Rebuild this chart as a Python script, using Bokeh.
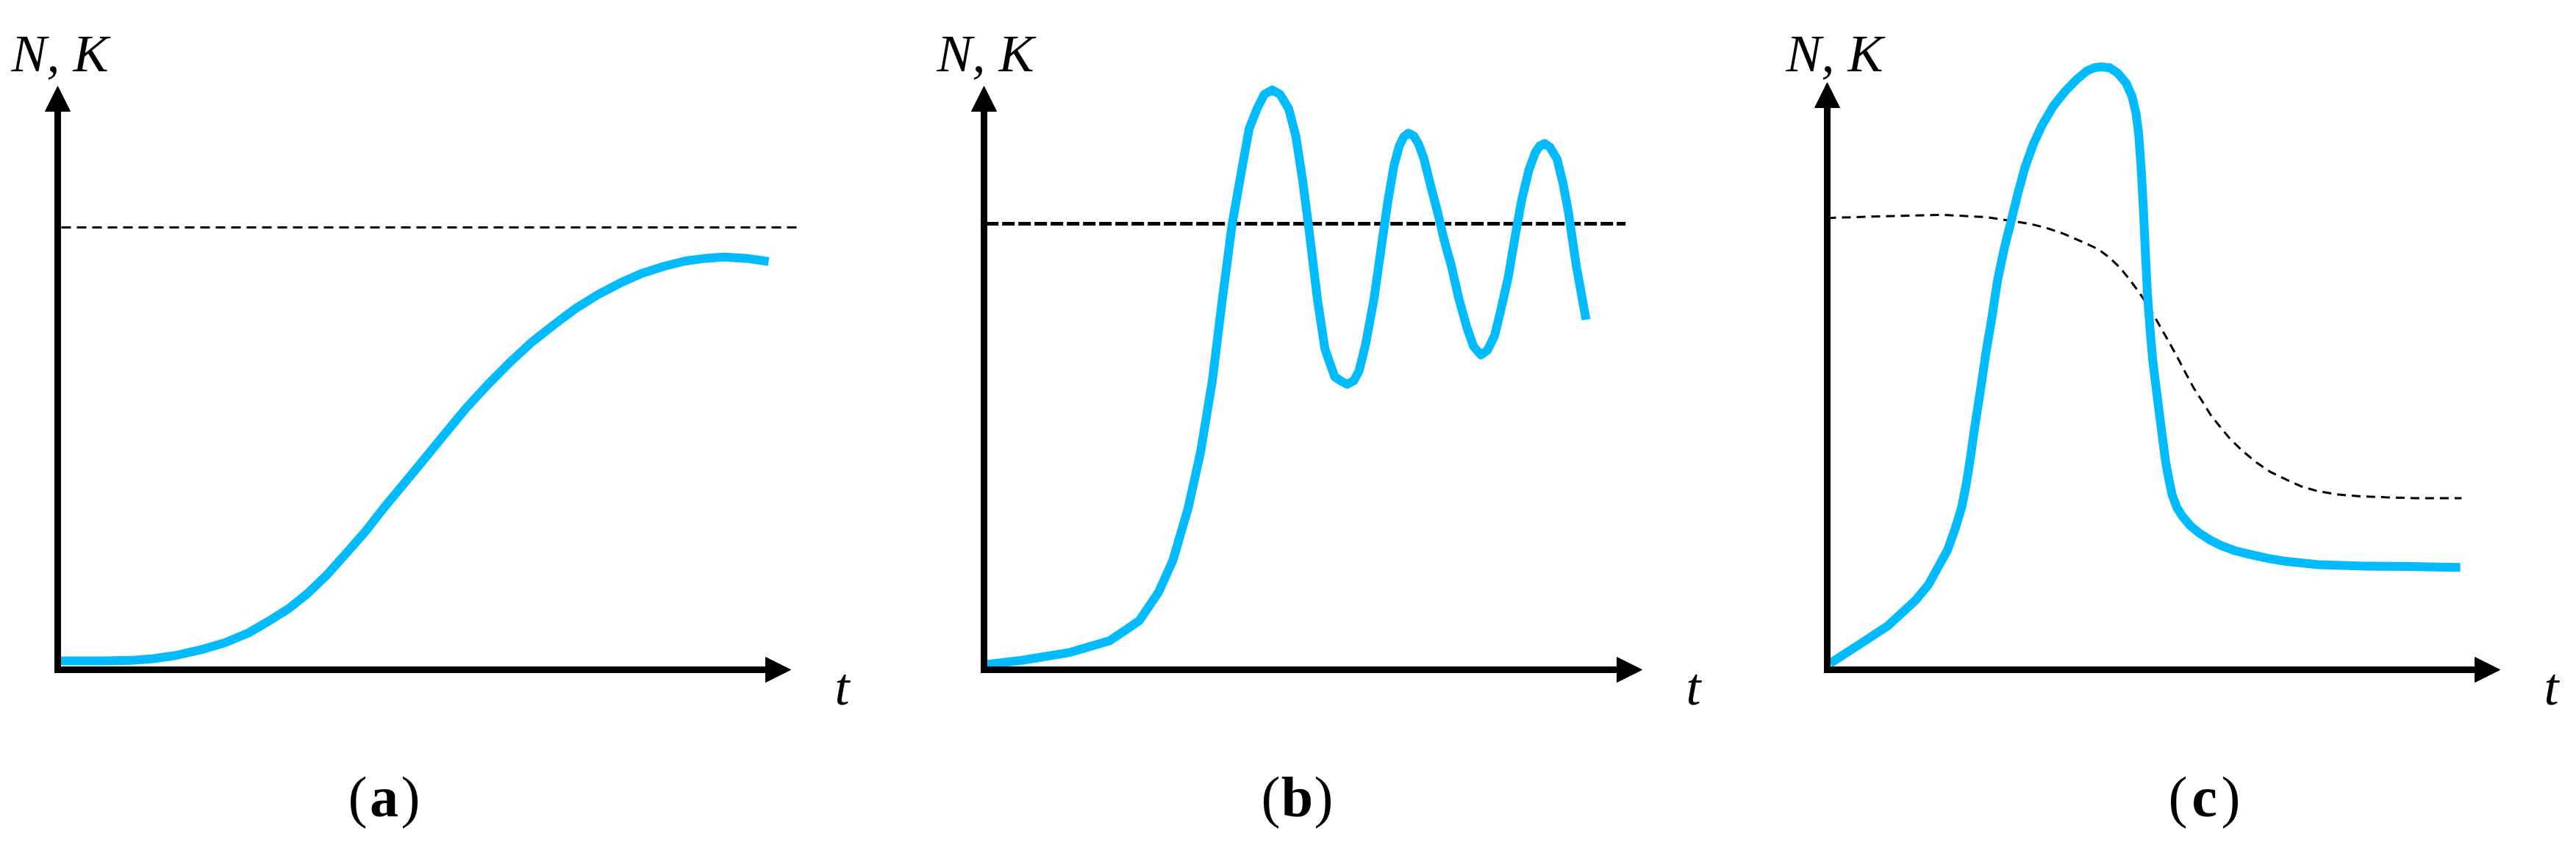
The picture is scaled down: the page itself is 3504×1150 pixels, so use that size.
from bokeh.plotting import figure
from bokeh.layouts import row
from bokeh.models import Range1d, Arrow, NormalHead
from bokeh.core.properties import value
from bokeh.embed import file_html
from bokeh.resources import INLINE

# ---------------- data (t in axis units: 0 = origin, 10 = arrow tip; N with K = 1) -------------
# Panel (a): logistic growth
t_a = [0.04, 0.6, 1.0, 1.3, 1.6, 1.95, 2.28, 2.6, 2.88, 3.15, 3.40, 3.67, 3.93, 4.2, 4.45, 4.71, 4.97,
       5.27, 5.57, 5.87, 6.17, 6.47, 6.77, 7.07, 7.37, 7.67, 7.97, 8.27, 8.56, 8.83, 9.09, 9.40, 9.70]
n_a = [0.02, 0.02, 0.021, 0.025, 0.032, 0.045, 0.061, 0.083, 0.11, 0.138, 0.171, 0.214, 0.262, 0.313,
       0.366, 0.418, 0.470, 0.531, 0.591, 0.645, 0.695, 0.741, 0.780, 0.817, 0.848, 0.874, 0.896, 0.912,
       0.924, 0.930, 0.933, 0.930, 0.923]
k_a_t = [0.05, 10.1]
k_a = [1.0, 1.0]

# Panel (b): damped oscillations around K
t_b = [0.05, 0.57, 1.31, 1.91, 2.36, 2.65, 2.87, 3.10, 3.29, 3.47, 3.62, 3.77, 3.92, 4.03, 4.15, 4.26,
       4.38, 4.50, 4.63, 4.74, 4.84, 4.93, 5.07, 5.18, 5.33, 5.42, 5.52, 5.62, 5.70, 5.80, 5.93, 6.04,
       6.14, 6.23, 6.31, 6.38, 6.45, 6.53, 6.60, 6.68, 6.78, 6.89, 7.00, 7.10, 7.22, 7.34, 7.44, 7.55,
       7.65, 7.76, 7.86, 7.97, 8.07, 8.17, 8.28, 8.38, 8.45, 8.52, 8.60, 8.71, 8.80, 8.88, 9.00, 9.15]
n_b = [0.012, 0.021, 0.039, 0.065, 0.110, 0.173, 0.245, 0.361, 0.487, 0.648, 0.828, 0.998, 1.124, 1.213,
       1.258, 1.290, 1.300, 1.290, 1.258, 1.196, 1.100, 0.998, 0.828, 0.720, 0.657, 0.648, 0.640, 0.648,
       0.670, 0.730, 0.834, 0.950, 1.052, 1.130, 1.174, 1.195, 1.203, 1.197, 1.180, 1.149, 1.090, 1.028,
       0.960, 0.907, 0.830, 0.767, 0.725, 0.706, 0.716, 0.749, 0.810, 0.882, 0.970, 1.052, 1.120, 1.160,
       1.175, 1.180, 1.172, 1.145, 1.090, 1.028, 0.907, 0.785]
k_b_t = [0.03, 9.75]
k_b = [1.0, 1.0]

# Panel (c): overshoot and collapse, with declining K
t_c = [0.04, 0.48, 0.90, 1.31, 1.50, 1.65, 1.79, 1.90, 2.00, 2.07, 2.13, 2.19, 2.28, 2.36, 2.45, 2.53,
       2.63, 2.73, 2.83, 2.94, 3.06, 3.19, 3.36, 3.53, 3.70, 3.86, 3.97, 4.07, 4.20, 4.32, 4.44, 4.53,
       4.59, 4.63, 4.67, 4.70, 4.73, 4.76, 4.80, 4.84, 4.90, 4.95, 5.03, 5.08, 5.13, 5.20, 5.28, 5.40,
       5.53, 5.70, 5.86, 6.06, 6.28, 6.55, 6.80, 7.30, 8.00, 8.70, 9.41]
n_c = [0.014, 0.056, 0.097, 0.153, 0.187, 0.227, 0.265, 0.311, 0.360, 0.413, 0.470, 0.534, 0.620, 0.701,
       0.780, 0.859, 0.930, 0.989, 1.050, 1.110, 1.160, 1.202, 1.245, 1.277, 1.303, 1.323, 1.330, 1.332,
       1.330, 1.318, 1.297, 1.267, 1.230, 1.184, 1.100, 1.017, 0.920, 0.831, 0.750, 0.682, 0.610, 0.552,
       0.460, 0.420, 0.385, 0.358, 0.339, 0.318, 0.302, 0.286, 0.274, 0.263, 0.255, 0.246, 0.240, 0.232,
       0.229, 0.228, 0.226]
k_c_t = [0.0, 0.6, 1.1, 1.73, 2.36, 2.78, 3.05, 3.28, 3.50, 3.69, 3.86, 4.03, 4.20, 4.36, 4.50, 4.65,
         4.78, 4.90, 5.05, 5.20, 5.33, 5.45, 5.58, 5.70, 5.85, 5.99, 6.17, 6.36, 6.60, 6.87, 7.05, 7.28,
         7.60, 7.93, 8.30, 8.74, 9.43]
k_c = [0.998, 1.001, 1.003, 1.005, 1.0, 0.991, 0.984, 0.975, 0.964, 0.952, 0.941, 0.929, 0.910, 0.887,
       0.861, 0.831, 0.802, 0.771, 0.732, 0.692, 0.655, 0.622, 0.592, 0.563, 0.535, 0.510, 0.484, 0.460,
       0.436, 0.417, 0.405, 0.395, 0.387, 0.383, 0.381, 0.379, 0.379]

panel_letters = ["a", "b", "c"]
y_label = "N, K"
x_label = "t"

# ---------------- layout (page pixels) ----------------
H = 1134
BLUE = "#00BBFF"
SERIF = "Liberation Serif"

panels = [
    dict(left=8, width=1163, ox=86, tipx=1083, oy=919, tipy=125, ky=317,
         nk_x=23, t_x=1143, lab_cx=530,
         t=t_a, n=n_a, kt=k_a_t, k=k_a, kw=3, kdash="13 8"),
    dict(left=1171, width=1163, ox=1346, tipx=2241, oy=919, tipy=125, ky=312,
         nk_x=1282, t_x=2301, lab_cx=1772,
         t=t_b, n=n_b, kt=k_b_t, k=k_b, kw=5, kdash="17 5"),
    dict(left=2334, width=1162, ox=2493, tipx=3408, oy=919, tipy=120, ky=303,
         nk_x=2437, t_x=3468, lab_cx=3006,
         t=t_c, n=n_c, kt=k_c_t, k=k_c, kw=3, kdash="12 8"),
]

figs = []
for letter, P in zip(panel_letters, panels):
    tu = (P["tipx"] - P["ox"]) / 10.0
    nu = P["oy"] - P["ky"]
    ox = P["ox"] - P["left"]
    oy = P["oy"] - 8
    W = P["width"]

    def tx(X, P=P, tu=tu):
        return (X - P["ox"]) / tu

    def ny(Y, P=P, nu=nu):
        return (P["oy"] - Y) / nu

    p = figure(width=W, height=H, output_backend="svg", toolbar_location=None,
               x_range=Range1d(-ox / tu, (W - ox) / tu),
               y_range=Range1d((oy - H) / nu, oy / nu),
               x_axis_location=None, y_axis_location=None, min_border=0)
    p.outline_line_color = None
    p.grid.visible = False
    p.background_fill_color = "white"
    p.border_fill_color = "white"

    # carrying capacity K (dashed)
    p.line(P["kt"], P["k"], line_color="black", line_width=P["kw"], line_dash=P["kdash"])
    # population N (blue)
    p.line(P["t"], P["n"], line_color=BLUE, line_width=12, line_join="round")

    # axes as arrows
    p.add_layout(Arrow(x_start=0, y_start=ny(P["oy"] + 4.5), x_end=0, y_end=ny(P["tipy"]),
                       line_width=9, line_color="black",
                       end=NormalHead(size=34, fill_color="black", line_color="black", line_width=1)))
    p.add_layout(Arrow(x_start=tx(P["ox"] - 4.5), y_start=0, x_end=10, y_end=0,
                       line_width=9, line_color="black",
                       end=NormalHead(size=34, fill_color="black", line_color="black", line_width=1)))

    # axis labels (italic)
    p.text(x=[tx(P["nk_x"]), tx(P["t_x"])], y=[ny(80), ny(942)], text=[y_label, x_label],
           text_font=value(SERIF), text_font_style="italic", text_font_size="72px",
           text_color="black", text_baseline="alphabetic", text_align="left")

    # panel letter "(x)" with bold letter
    cx = P["lab_cx"]
    p.text(x=[tx(cx - 23), tx(cx + 23)], y=[ny(1092), ny(1092)], text=["(", ")"],
           text_font=value(SERIF), text_font_size="78px", text_color="black",
           text_baseline="alphabetic", text_align=["right", "left"])
    p.text(x=[tx(cx)], y=[ny(1092)], text=[letter], text_font=value(SERIF), text_font_style="bold",
           text_font_size="78px", text_color="black", text_baseline="alphabetic", text_align="center")
    figs.append(p)

layout = row(*figs)
open("out.html", "w").write(file_html(layout, INLINE))
